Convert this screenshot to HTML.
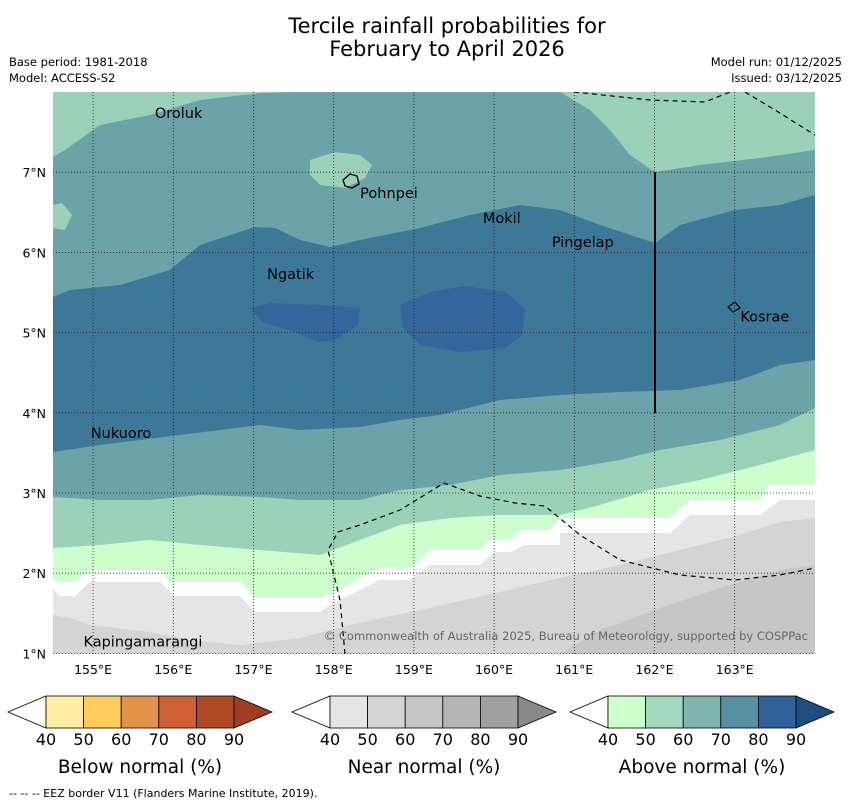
<!DOCTYPE html>
<html><head><meta charset="utf-8"><style>
body{margin:0;background:#fff;}
svg{display:block;font-family:"DejaVu Sans","Liberation Sans",sans-serif;}
</style></head><body>
<svg id="chart" width="850" height="804" viewBox="0 0 850 804">
<text x="447" y="33" font-size="21" text-anchor="middle">Tercile rainfall probabilities for</text>
<text x="447" y="56" font-size="21" text-anchor="middle">February to April 2026</text>
<text x="9" y="66" font-size="11.5">Base period: 1981-2018</text>
<text x="9" y="82" font-size="11.5">Model: ACCESS-S2</text>
<text x="842" y="66" font-size="11.5" text-anchor="end">Model run: 01/12/2025</text>
<text x="842" y="82" font-size="11.5" text-anchor="end">Issued: 03/12/2025</text>
<defs><clipPath id="mapclip"><rect x="53" y="92" width="762" height="562"/></clipPath></defs>
<g id="map" clip-path="url(#mapclip)">
<rect x="53" y="92" width="762" height="562" fill="#9bd1b8"/>
<path fill="#6ca3a8" d="M53,157 L65,150 L100,125 L150,115 L200,100 L260,93 L305,92 L560,92 L590,110 L610,130 L630,155 L655,172 L700,165 L760,158 L815,150 L815,654 L53,654Z"/>
<path fill="#9bd1b8" d="M310,160 L335,152 L360,155 L372,165 L365,178 L345,188 L320,185 L310,175Z"/>
<path fill="#9bd1b8" d="M53,205 L62,203 L72,215 L65,230 L53,228Z"/>
<path fill="#3e7898" d="M53,297 L70,290 L120,285 L170,270 L200,245 L255,227 L275,228 L300,240 L330,247 L360,240 L420,228 L470,215 L520,205 L560,210 L600,225 L655,243 L680,225 L735,210 L780,205 L815,195 L815,360 L780,365 L740,380 L680,390 L620,392 L560,395 L500,400 L440,415 L400,420 L360,427 L300,430 L260,425 L180,435 L100,445 L53,452Z"/>
<path fill="#33669a" d="M250,308 L270,303 L320,305 L360,308 L358,325 L335,340 L318,342 L295,332 L262,322Z"/>
<path fill="#33669a" d="M400,305 L430,292 L465,286 L505,292 L525,308 L522,335 L505,348 L460,352 L420,345 L403,328Z"/>
<path fill="#9bd1b8" d="M53,497 L100,500 L150,500 L200,495 L260,497 L300,500 L360,500 L400,490 L450,485 L500,475 L560,470 L620,460 L660,450 L720,440 L780,425 L815,408 L815,654 L53,654Z"/>
<path fill="#ccffcc" d="M53,548 L100,545 L150,540 L200,545 L260,550 L320,555 L360,540 L400,525 L450,518 L500,515 L560,515 L600,505 L650,490 L700,480 L760,465 L815,450 L815,654 L53,654Z"/>
<path fill="#ffffff" d="M53,580 L60,582 L75,582 L90,570 L160,570 L170,582 L240,582 L255,598 L320,598 L340,590 L360,578 L380,568 L410,568 L420,560 L430,550 L480,550 L490,540 L510,540 L520,530 L550,530 L560,518 L670,518 L690,500 L760,500 L770,485 L815,485 L815,654 L53,654Z"/>
<path fill="#e5e5e5" d="M53,588 L60,596 L75,596 L90,582 L160,582 L175,596 L240,596 L255,612 L320,612 L330,605 L380,580 L410,580 L430,565 L480,565 L495,552 L510,552 L525,545 L560,545 L560,533 L670,533 L690,515 L760,515 L780,500 L815,500 L815,654 L53,654Z"/>
<path fill="#d4d4d4" d="M53,615 L70,618 L90,625 L150,632 L190,640 L240,645 L300,638 L350,625 L420,610 L500,592 L560,578 L620,565 L680,550 L740,535 L780,522 L815,518 L815,654 L53,654Z"/>
<path fill="#c6c6c6" d="M560,654 L600,630 L660,608 L720,588 L780,570 L815,565 L815,654Z"/>
<g id="grid"></g>
<path d="M574,92 L650,100 L705,102 L735,90 M745,92 L775,110 L815,135" fill="none" stroke="#000" stroke-width="1.2" stroke-dasharray="5,4"/>
<path d="M345,654 L340,600 L328,550 L338,532 L360,525 L400,510 L444,483 L480,496 L515,503 L545,506 L580,535 L620,560 L680,575 L735,580 L780,575 L815,568" fill="none" stroke="#000" stroke-width="1.2" stroke-dasharray="5,4"/>
<line x1="655" y1="172" x2="655" y2="413" stroke="#000" stroke-width="2"/>
<path d="M343,180 L350,174 L357,176 L359,184 L352,188 L345,186Z" fill="none" stroke="#000" stroke-width="1.3"/>
<path d="M728,307 L735,302 L740,308 L733,312Z" fill="none" stroke="#000" stroke-width="1.2"/>
<g id="labels"></g>
<text x="808" y="640" font-size="11.5" fill="#666" text-anchor="end">© Commonwealth of Australia 2025, Bureau of Meteorology, supported by COSPPac</text>
</g>
<g id="axes"></g>
<g id="cbars"></g>
<text x="9" y="797" font-size="11">--  --  -- EEZ border V11 (Flanders Marine Institute, 2019).</text>
</svg>
<script>
const lonTicks=[155,156,157,158,159,160,161,162,163];
const latTicks=[1,2,3,4,5,6,7];
const islandNames=["Oroluk","Pohnpei","Mokil","Pingelap","Ngatik","Kosrae","Nukuoro","Kapingamarangi"];
const islandLon=[155.77,158.33,159.86,160.72,157.17,163.07,154.97,154.88];
const islandLat=[7.74,6.74,6.43,6.13,5.73,5.2,3.75,1.15];
const barTitles=["Below normal (%)","Near normal (%)","Above normal (%)"];
const barLevels=[40,50,60,70,80,90];
const barColors=[["#ffeda0","#fecc5c","#e3924a","#cf6132","#b04a25","#a03d20"],
["#e5e5e5","#d4d4d4","#c6c6c6","#b4b4b4","#a0a0a0","#888888"],
["#ccffcc","#a3d9bf","#80b5b0","#5890a3","#30629a","#1c4c80"]];
const NS="http://www.w3.org/2000/svg";
const X=lon=>53+(lon-154.5)*80.2;
const Y=lat=>92+(8-lat)*80.2;
function mk(tag,at,parent){const e=document.createElementNS(NS,tag);for(const k in at)e.setAttribute(k,at[k]);parent.appendChild(e);return e;}
const grid=document.getElementById('grid'),axes=document.getElementById('axes'),labels=document.getElementById('labels'),cb=document.getElementById('cbars');
lonTicks.forEach(v=>{
 const l=mk('line',{x1:X(v),x2:X(v),y1:92,y2:654,stroke:'#222','stroke-width':0.8,'stroke-dasharray':'1,2'},grid);
 
 
 const t=mk('text',{x:X(v),y:674,'font-size':12.5,'text-anchor':'middle'},axes);t.textContent=v+'°E';
 
 
});
latTicks.forEach(v=>{
 const l=mk('line',{x1:53,x2:815,y1:Y(v),y2:Y(v),stroke:'#222','stroke-width':0.8,'stroke-dasharray':'1,2'},grid);
 
 
 const t=mk('text',{x:46,y:Y(v)+5,'font-size':12.5,'text-anchor':'end'},axes);t.textContent=v+'°N';
 
 
});
islandNames.forEach((n,i)=>{
 const t=mk('text',{x:X(islandLon[i]),y:Y(islandLat[i])+5,'font-size':14.5},labels);t.textContent=n;
 
 
});
const barX0=[8,292,570];
barTitles.forEach((title,b)=>{
 const x0=barX0[b],tw=38,bw=37.6,y0=696,h=32;
 const g=mk('g',{},cb);
 
 
 const lt=mk('path',{d:`M${x0},${y0+h/2} L${x0+tw},${y0} L${x0+tw},${y0+h}Z`,fill:'#fff',stroke:'#000','stroke-width':0.8},g);
 
 
 for(let i=0;i<5;i++){
  const r=mk('rect',{x:x0+tw+i*bw,y:y0,width:bw,height:h,fill:barColors[b][i],stroke:'#000','stroke-width':0.8},g);
  
  
 }
 const ex=x0+tw+5*bw;
 const rt=mk('path',{d:`M${ex},${y0} L${ex+tw},${y0+h/2} L${ex},${y0+h}Z`,fill:barColors[b][5],stroke:'#000','stroke-width':0.8},g);
 
 
 barLevels.forEach((v,i)=>{
  const t=mk('text',{x:x0+tw+i*bw,y:745,'font-size':16,'text-anchor':'middle'},g);t.textContent=v;
  
  
 });
 const tt=mk('text',{x:x0+tw+2.5*bw,y:773,'font-size':18.5,'text-anchor':'middle'},g);tt.textContent=title;
 
 
});
</script>
</body></html>
